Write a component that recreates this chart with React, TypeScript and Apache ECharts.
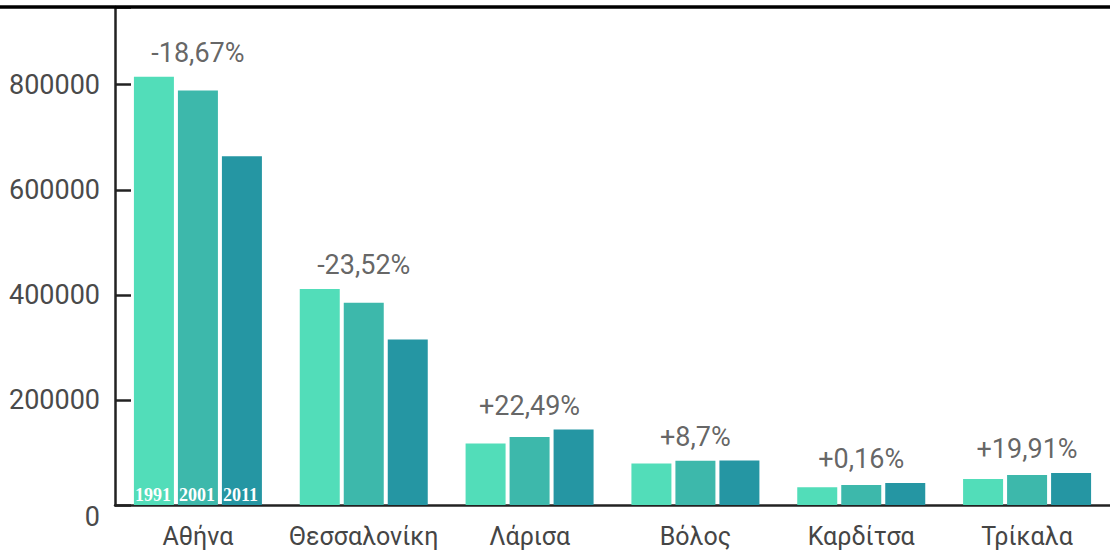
import React, { useEffect, useRef } from "react";
import * as echarts from "echarts";

const cities = ["Αθήνα", "Θεσσαλονίκη", "Λάρισα", "Βόλος", "Καρδίτσα", "Τρίκαλα"];
const years = ["1991", "2001", "2011"];
const pop1991 = [815000, 411000, 117000, 79000, 34000, 49500];
const pop2001 = [789000, 385000, 129500, 84000, 38000, 57000];
const pop2011 = [664000, 315000, 143500, 84500, 42000, 61000];
const changeLabels = ["-18,67%", "-23,52%", "+22,49%", "+8,7%", "+0,16%", "+19,91%"];
const yTicks = [0, 200000, 400000, 600000, 800000];

const barColors = ["#52DDB9", "#3DB8AB", "#2596A3"];
const FONT = "Roboto, 'Noto Sans', sans-serif";

export default function App() {
  const ref = useRef<HTMLDivElement>(null);
  useEffect(() => {
    if (!ref.current) return;
    const chart = echarts.init(ref.current, undefined, { renderer: "svg" });
    const seriesData = [pop1991, pop2001, pop2011];
    const bars = seriesData.map((vals, si) => ({
      type: "bar",
      name: years[si],
      barWidth: 40,
      barGap: "10%",
      z: 3,
      itemStyle: { color: barColors[si] },
      data: vals.map((v, i) =>
        i === 0
          ? {
              value: v,
              label: {
                show: true,
                position: "insideBottomLeft",
                distance: 1,
                formatter: years[si],
                color: "#ffffff",
                fontFamily: "'Liberation Serif', serif",
                fontWeight: "bold",
                fontSize: 18,
              },
            }
          : v
      ),
    }));
    const maxes = cities.map((_, i) => Math.max(pop1991[i], pop2001[i], pop2011[i]));
    chart.setOption({
      animation: false,
      grid: { left: 115, right: -3, top: 7, bottom: 49, containLabel: false },
      xAxis: {
        type: "category",
        data: cities,
        axisLine: { lineStyle: { color: "#222", width: 2.5 } },
        axisTick: { inside: true, length: 12, lineStyle: { color: "#222", width: 2.5 } },
        axisLabel: { color: "#454545", fontSize: 25, fontFamily: FONT, margin: 19, interval: 0 },
      },
      yAxis: {
        type: "value",
        min: 0,
        max: 948000,
        interval: 200000,
        splitLine: { show: false },
        axisLine: { show: true, lineStyle: { color: "#222", width: 2.5 } },
        axisTick: { show: true, inside: true, length: 16, lineStyle: { color: "#222", width: 2.5 } },
        axisLabel: {
          color: "#4a4a4a",
          fontSize: 27,
          fontFamily: FONT,
          margin: 15,
          formatter: (v: number) =>
            yTicks.indexOf(v) < 0 ? "" : v === 0 ? "{z|0}" : String(v),
          rich: { z: { fontSize: 27, fontFamily: FONT, color: "#4a4a4a", padding: [24, 0, 0, 0] } },
        },
      },
      series: [
        ...bars,
        {
          type: "scatter",
          symbolSize: 1,
          itemStyle: { color: "rgba(0,0,0,0)" },
          z: 5,
          data: maxes.map((m, i) => [i, m]),
          label: {
            show: true,
            position: "top",
            distance: 10,
            fontSize: 27,
            fontFamily: FONT,
            color: "#3d3d3d",
            formatter: (p: any) => changeLabels[p.dataIndex],
          },
        },
      ],
      graphic: [
        {
          type: "line",
          shape: { x1: 0, y1: 7, x2: 1110, y2: 7 },
          style: { stroke: "#000", lineWidth: 3.5 },
          z: 10,
        },
      ],
    });
    return () => chart.dispose();
  }, []);
  return (
    <div
      ref={ref}
      style={{ position: "fixed", left: 0, top: 0, width: 1110, height: 554, background: "#fff" }}
    />
  );
}
